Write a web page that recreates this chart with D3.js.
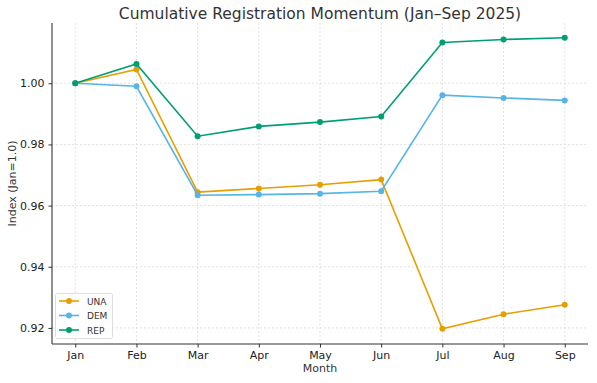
<!DOCTYPE html>
<html><head><meta charset="utf-8">
<script src="https://cdn.jsdelivr.net/npm/d3@7"></script>
<style>body{margin:0;background:#fff;} svg{display:block;font-family:"DejaVu Sans",sans-serif;}</style>
</head><body>
<svg id="c" width="597" height="383"></svg>
<script>
const months = ["Jan","Feb","Mar","Apr","May","Jun","Jul","Aug","Sep"];
const una = [1.0000, 1.0045, 0.9644, 0.9656, 0.9668, 0.9685, 0.9197, 0.9245, 0.9276];
const dem = [1.0000, 0.9990, 0.9634, 0.9636, 0.9639, 0.9647, 0.9961, 0.9952, 0.9944];
const rep = [1.0000, 1.0063, 0.9827, 0.9859, 0.9873, 0.9891, 1.0133, 1.0143, 1.0149];
const yTicks = [0.92, 0.94, 0.96, 0.98, 1.00];
const seriesNames = ["UNA","DEM","REP"];
const seriesColors = ["#E69F00","#56B4E9","#009E73"];
const series = [una, dem, rep];

const svg = d3.select("#c");
const L = 52, R = 588, T = 23, B = 344;
const x = d3.scaleLinear().domain([-0.38, 8.38]).range([L, R]);
const y = d3.scaleLinear().domain([0.91475, 1.0197]).range([B, T]);

// grid
const g = svg.append("g");
g.selectAll(".vg").data(months).enter().append("line")
  .attr("x1",(d,i)=>x(i)).attr("x2",(d,i)=>x(i)).attr("y1",T).attr("y2",B)
  .attr("stroke","#d9d9d9").attr("stroke-width",0.8).attr("stroke-dasharray","2,2");
g.selectAll(".hg").data(yTicks).enter().append("line")
  .attr("x1",L).attr("x2",R).attr("y1",d=>y(d)).attr("y2",d=>y(d))
  .attr("stroke","#d9d9d9").attr("stroke-width",0.8).attr("stroke-dasharray","2,2");

// axes
const xAxis = d3.axisBottom(x).tickValues(d3.range(months.length)).tickFormat(i=>months[i]).tickSize(3.5).tickPadding(4);
const yAxis = d3.axisLeft(y).tickValues(yTicks).tickFormat(d3.format(".2f")).tickSize(3.5).tickPadding(4);
const ax = svg.append("g").attr("transform",`translate(0,${B})`).call(xAxis);
const ay = svg.append("g").attr("transform",`translate(${L},0)`).call(yAxis);
[ax, ay].forEach(a=>{
  a.select(".domain").remove();
  a.selectAll(".tick line").attr("stroke","#333");
  a.selectAll(".tick text").attr("fill","#222").style("font-size","11px").style("font-family","DejaVu Sans");
});
svg.append("line").attr("x1",L).attr("x2",L).attr("y1",T).attr("y2",B).attr("stroke","#333").attr("stroke-width",1.1);
svg.append("line").attr("x1",L).attr("x2",R).attr("y1",B).attr("y2",B).attr("stroke","#333").attr("stroke-width",1.1);

// lines
const line = d3.line().x((d,i)=>x(i)).y(d=>y(d));
series.forEach((s,k)=>{
  svg.append("path").datum(s).attr("d",line).attr("fill","none")
    .attr("stroke",seriesColors[k]).attr("stroke-width",1.6);
  svg.selectAll(null).data(s).enter().append("circle")
    .attr("cx",(d,i)=>x(i)).attr("cy",d=>y(d)).attr("r",3).attr("fill",seriesColors[k]);
});

// title & labels
svg.append("text").attr("x",(L+R)/2).attr("y",19).attr("text-anchor","middle")
  .attr("fill","#333").style("font-size","15.5px").text("Cumulative Registration Momentum (Jan–Sep 2025)");
svg.append("text").attr("x",(L+R)/2).attr("y",372).attr("text-anchor","middle")
  .attr("fill","#333").style("font-size","11px").text("Month");
svg.append("text").attr("transform",`translate(16,${(T+B)/2}) rotate(-90)`).attr("text-anchor","middle")
  .attr("fill","#333").style("font-size","11px").text("Index (Jan=1.0)");

// legend
const lg = svg.append("g");
lg.append("rect").attr("x",55.5).attr("y",293.5).attr("width",57).attr("height",45).attr("rx",2)
  .attr("fill","#fff").attr("fill-opacity",0.8).attr("stroke","#ddd");
seriesNames.forEach((n,k)=>{
  const yy = 301 + k*14.5;
  lg.append("line").attr("x1",59).attr("x2",79).attr("y1",yy).attr("y2",yy).attr("stroke",seriesColors[k]).attr("stroke-width",1.6);
  lg.append("circle").attr("cx",69).attr("cy",yy).attr("r",3).attr("fill",seriesColors[k]);
  lg.append("text").attr("x",87).attr("y",yy+3.5).attr("fill","#333").style("font-size","9px").text(n);
});
</script>
</body></html>
